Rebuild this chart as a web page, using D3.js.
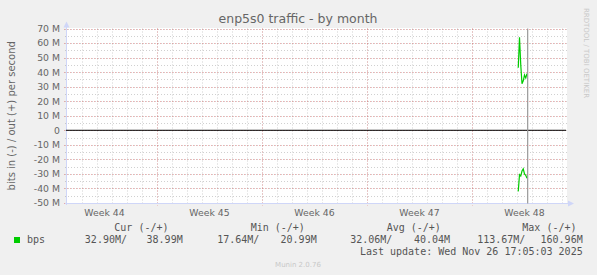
<!DOCTYPE html>
<html>
<head>
<meta charset="utf-8">
<script src="https://cdn.jsdelivr.net/npm/d3@7"></script>
<style>
  body { margin: 0; background: #f0f0f0; }
  svg { display: block; }
  text { font-family: "DejaVu Sans", sans-serif; fill: #666; }
  .mono { font-family: "DejaVu Sans Mono", monospace; font-size: 10px; fill: #555; white-space: pre; }
</style>
</head>
<body>
<svg id="chart" width="597" height="275"></svg>
<script>
const svg = d3.select("#chart"),
    width = +svg.attr("width"),
    height = +svg.attr("height");

// data (values in M bits/s), samples every 2h on the last day
const sample_times = ["2025-11-26T02:00Z","2025-11-26T04:00Z","2025-11-26T06:00Z","2025-11-26T08:00Z",
    "2025-11-26T10:00Z","2025-11-26T12:00Z","2025-11-26T14:00Z","2025-11-26T16:00Z"];
const bps_out = [43, 64, 45, 32, 34, 38, 36, 39];
const bps_in = [-42, -30.5, -31.5, -28, -26.5, -30, -31, -32.9];
const last_update = "2025-11-26T17:05:03Z";

const x_domain = ["2025-10-27T00:00Z", "2025-11-29T08:00Z"];
const y_domain = [-50, 70];
const y_ticks = [-50, -40, -30, -20, -10, 0, 10, 20, 30, 40, 50, 60, 70];

const legend_heads = ["Cur (-/+)", "Min (-/+)", "Avg (-/+)", "Max (-/+)"];
const legend_vals = ["32.90M/", "38.99M", "17.64M/", "20.99M", "32.06M/", "40.04M", "113.67M/", "160.96M"];

const plot = {left: 67, right: 567, top: 28.5, bottom: 203};

const x = d3.scaleTime()
    .domain(x_domain.map(d => new Date(d)))
    .range([plot.left, plot.right]);
const y = d3.scaleLinear()
    .domain(y_domain)
    .range([plot.bottom, plot.top]);

const snap = v => Math.round(v) + 0.5;
const minorCol = "rgba(150,150,150,0.45)",
    majorCol = "rgba(222,79,79,0.45)";

// canvas
svg.append("rect")
    .attr("x", plot.left).attr("y", plot.top - 0.5)
    .attr("width", plot.right - plot.left).attr("height", plot.bottom - plot.top + 1)
    .attr("fill", "#ffffff");

// minor grid
const grid = svg.append("g");
const days = d3.utcDay.range(x.domain()[0], x.domain()[1]).filter(d => x(d) > plot.left + 1);
const halfTicks = d3.range(y_domain[0], y_domain[1] + 0.1, 5);

grid.selectAll(".vminor").data(days).enter().append("line")
    .attr("x1", d => snap(x(d))).attr("x2", d => snap(x(d)))
    .attr("y1", plot.top).attr("y2", plot.bottom + 2)
    .attr("stroke", minorCol)
    .attr("stroke-dasharray", "1,2");

grid.selectAll(".hminor").data(halfTicks).enter().append("line")
    .attr("x1", plot.left - 2).attr("x2", plot.right)
    .attr("y1", d => snap(y(d))).attr("y2", d => snap(y(d)))
    .attr("stroke", minorCol)
    .attr("stroke-dasharray", "1,2");

// major grid
const weeks = d3.utcSunday.range(x.domain()[0], x.domain()[1]).filter(d => x(d) > plot.left + 1);

grid.selectAll(".vmajor").data(weeks).enter().append("line")
    .attr("x1", d => snap(x(d))).attr("x2", d => snap(x(d)))
    .attr("y1", plot.top).attr("y2", plot.bottom + 3)
    .attr("stroke", majorCol)
    .attr("stroke-dasharray", "1,2");

grid.selectAll(".hmajor").data(y_ticks).enter().append("line")
    .attr("x1", plot.left - 3).attr("x2", plot.right)
    .attr("y1", d => snap(y(d))).attr("y2", d => snap(y(d)))
    .attr("stroke", majorCol)
    .attr("stroke-dasharray", "1,2");

// axes
const axisCol = "#CFD6F8";
svg.append("line")
    .attr("x1", plot.left - 0.5).attr("x2", plot.left - 0.5)
    .attr("y1", plot.bottom + 2).attr("y2", plot.top - 5)
    .attr("stroke", axisCol);
svg.append("path")
    .attr("d", `M${plot.left - 3.5},${plot.top - 1}L${plot.left - 0.5},${plot.top - 7}L${plot.left + 2.5},${plot.top - 1}Z`)
    .attr("fill", axisCol);
svg.append("line")
    .attr("x1", plot.left - 2).attr("x2", plot.right + 3)
    .attr("y1", snap(plot.bottom)).attr("y2", snap(plot.bottom))
    .attr("stroke", axisCol);
svg.append("path")
    .attr("d", `M${plot.right + 1},${snap(plot.bottom) - 3}L${plot.right + 7},${snap(plot.bottom)}L${plot.right + 1},${snap(plot.bottom) + 3}Z`)
    .attr("fill", axisCol);

// y tick labels
svg.append("g").selectAll("text")
    .data(y_ticks).enter().append("text")
    .attr("x", 60)
    .attr("y", d => y(d) + 3.4)
    .attr("text-anchor", "end")
    .style("font-size", "9.3px")
    .text(d => d === 0 ? "0" : d + " M");

// week labels (centred in each week)
const weekLabels = d3.utcSunday.range(d3.utcSunday.offset(x.domain()[0], -1), x.domain()[1])
    .map(d => d3.utcHour.offset(d, 84))
    .filter(d => x(d) > plot.left && x(d) < plot.right);
const weekFmt = d3.utcFormat("Week %V");
svg.append("g").selectAll("text")
    .data(weekLabels).enter().append("text")
    .attr("x", d => x(d))
    .attr("y", 216)
    .attr("text-anchor", "middle")
    .style("font-size", "9.3px")
    .text(d => weekFmt(d));

// zero rule
svg.append("line")
    .attr("x1", plot.left - 1).attr("x2", plot.right - 1)
    .attr("y1", y(0)).attr("y2", y(0))
    .attr("stroke", "#000").attr("stroke-width", 1);

// series
const pts = sample_times.map(t => new Date(t));
const line = d3.line()
    .x(d => x(d[0]))
    .y(d => y(d[1]));
[bps_out, bps_in].forEach(vals => {
    svg.append("path")
        .attr("d", line(pts.map((t, i) => [t, vals[i]])))
        .attr("fill", "none")
        .attr("stroke", "#00cc00")
        .attr("stroke-width", 1.2);
});

// now rule
svg.append("line")
    .attr("x1", x(new Date(last_update))).attr("x2", x(new Date(last_update)))
    .attr("y1", plot.top).attr("y2", plot.bottom + 0.5)
    .attr("stroke", "#999999").attr("stroke-width", 1.2);

// titles
svg.append("text")
    .attr("x", 298).attr("y", 23)
    .attr("text-anchor", "middle")
    .style("font-size", "12.5px")
    .text("enp5s0 traffic - by month");

svg.append("text")
    .attr("transform", "translate(15," + ((plot.top + plot.bottom) / 2) + ") rotate(-90)")
    .attr("text-anchor", "middle")
    .style("font-size", "10px")
    .text("bits in (-) / out (+) per second");

svg.append("text")
    .attr("transform", "translate(584,53) rotate(90)")
    .attr("text-anchor", "middle")
    .style("font-size", "7px")
    .style("fill", "#c8c8c8")
    .text("RRDTOOL / TOBI OETIKER");

// legend
const headX = [114.3, 250.7, 386.7, 522.3];
svg.append("g").selectAll("text")
    .data(legend_heads).enter().append("text")
    .attr("class", "mono")
    .attr("x", (d, i) => headX[i])
    .attr("y", 231)
    .text(d => d);

svg.append("rect")
    .attr("x", 14).attr("y", 237).attr("width", 6).attr("height", 6)
    .attr("fill", "#00cc00");
svg.append("text")
    .attr("class", "mono")
    .attr("x", 27).attr("y", 243)
    .text("bps");

const valEnd = [127, 182.7, 259.3, 316.7, 392.3, 450, 525.3, 582.7];
svg.append("g").selectAll("text")
    .data(legend_vals).enter().append("text")
    .attr("class", "mono")
    .attr("x", (d, i) => valEnd[i])
    .attr("y", 243)
    .attr("text-anchor", "end")
    .text(d => d);

svg.append("text")
    .attr("class", "mono")
    .attr("x", 582.7).attr("y", 255)
    .attr("text-anchor", "end")
    .text("Last update: Wed Nov 26 17:05:03 2025");

svg.append("text")
    .attr("x", 298).attr("y", 267)
    .attr("text-anchor", "middle")
    .style("font-size", "7px")
    .style("fill", "#c8c8c8")
    .text("Munin 2.0.76");
</script>
</body>
</html>
